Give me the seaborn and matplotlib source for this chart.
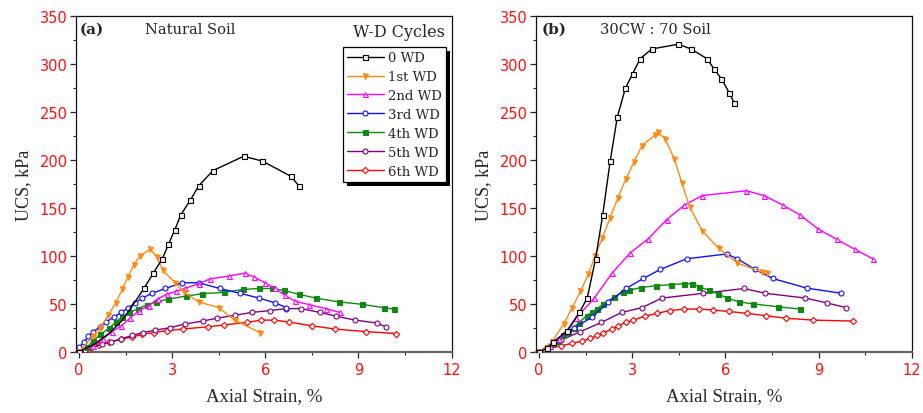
import matplotlib
matplotlib.use("Agg")
import matplotlib.pyplot as plt
from matplotlib.patches import Rectangle
from matplotlib.ticker import MultipleLocator
import seaborn as sns

# ---- (a) Natural soil: axial strain (%) vs UCS (kPa) ----
a_wd0_x = [0, 0.5, 1.0, 1.4, 1.78, 2.09, 2.39, 2.68, 2.88, 3.08, 3.28, 3.58, 3.85, 4.31, 5.30, 5.90, 6.83, 7.08]
a_wd0_y = [0, 8, 20, 33, 51, 66, 82, 97, 112, 127, 143, 158, 173, 189, 204, 199, 183, 173]
a_wd1_x = [0, 0.46, 0.68, 0.94, 1.18, 1.39, 1.57, 1.77, 1.96, 2.29, 2.50, 2.70, 3.09, 3.39, 3.85, 4.50, 5.01, 5.82]
a_wd1_y = [0, 16, 25, 38, 51, 65, 78, 91, 100, 107, 99, 85, 72, 62, 52, 46, 33, 20]
a_wd2_x = [0, 0.45, 0.76, 1.06, 1.36, 1.64, 1.94, 2.24, 2.53, 2.82, 3.12, 3.40, 3.85, 4.21, 4.83, 5.33, 5.64, 5.98, 6.31, 6.63, 6.94, 7.42, 7.95, 8.40]
a_wd2_y = [0, 6, 13, 21, 27, 35, 43, 48, 55, 60, 63, 66, 71, 76, 79, 82, 78, 72, 66, 59, 53, 49, 45, 41]
a_wd3_x = [0, 0.16, 0.30, 0.46, 0.68, 0.87, 1.11, 1.36, 1.59, 1.80, 2.04, 2.35, 2.78, 3.32, 3.85, 4.53, 5.18, 5.80, 6.31, 6.68]
a_wd3_y = [4.5, 10, 16, 21, 26, 31, 36, 41, 46, 51, 56, 61, 66, 72, 72, 66, 61, 56, 51, 46]
a_wd4_x = [0, 0.25, 0.46, 0.68, 0.98, 1.19, 1.37, 1.61, 1.89, 2.18, 2.49, 2.88, 3.44, 3.96, 4.66, 5.28, 5.79, 6.22, 6.60, 7.07, 7.62, 8.37, 9.11, 9.81, 10.15]
a_wd4_y = [0, 4.5, 11.5, 18, 25, 31, 36, 41, 44.5, 49, 52, 55, 58, 60.5, 62, 65, 66, 66, 64, 60, 56, 52, 49.5, 46, 44.5]
a_wd5_x = [0, 0.19, 0.43, 0.74, 1.03, 1.36, 1.71, 2.05, 2.46, 2.92, 3.42, 3.98, 4.44, 5.01, 5.56, 6.15, 6.67, 7.15, 7.76, 8.29, 8.89, 9.59, 9.88]
a_wd5_y = [0, 2, 4.5, 8, 10, 13.5, 17, 20, 22.6, 25, 29, 32, 35, 38, 41, 43, 45, 45, 41, 37, 33, 30, 26]
a_wd6_x = [0, 0.33, 0.63, 0.95, 1.35, 1.72, 2.04, 2.40, 2.83, 3.34, 4.14, 4.68, 5.40, 5.87, 6.29, 6.76, 7.51, 8.24, 9.24, 10.2]
a_wd6_y = [0, 3, 7, 10, 13, 15.6, 18, 20, 22, 23.7, 26, 28, 30.6, 33, 33, 31, 27, 23.7, 21, 19]

# ---- (b) 30CW : 70 Soil ----
b_wd0_x = [0, 0.25, 0.46, 0.9, 1.30, 1.55, 1.82, 2.05, 2.29, 2.52, 2.78, 3.01, 3.26, 3.63, 4.49, 4.89, 5.40, 5.64, 5.87, 6.13, 6.28]
b_wd0_y = [0, 3.5, 10, 22, 41, 56, 97, 143, 199, 245, 275, 290, 306, 316, 321, 316, 306, 295, 285, 270, 260]
b_wd1_x = [0, 0.41, 0.79, 1.07, 1.33, 1.59, 1.80, 2.04, 2.29, 2.53, 2.79, 3.06, 3.31, 3.73, 3.84, 4.06, 4.36, 4.60, 4.85, 5.26, 5.78, 6.39, 7.19, 7.33]
b_wd1_y = [0, 10, 29, 46, 63, 81, 100, 119, 140, 160, 180, 198, 215, 226, 229, 222, 201, 176, 151, 126, 108, 92.5, 83, 82]
b_wd2_x = [0, 0.35, 0.65, 0.92, 1.19, 1.78, 2.35, 2.93, 3.52, 4.11, 4.68, 5.25, 6.68, 7.25, 7.85, 8.40, 8.99, 9.58, 10.16, 10.75]
b_wd2_y = [0, 6, 13, 22, 35, 56, 82, 103, 118, 138, 153, 163, 168, 163, 153, 143, 128, 117.5, 107, 97]
b_wd3_x = [0, 0.5, 1.14, 1.70, 2.23, 2.80, 3.36, 3.91, 4.75, 6.04, 6.39, 6.95, 7.52, 8.62, 9.74]
b_wd3_y = [0, 10, 25, 36, 51.5, 66, 76.5, 86, 97, 102, 97, 86, 76.5, 66.4, 61]
b_wd4_x = [0, 0.25, 0.43, 0.60, 0.78, 0.94, 1.11, 1.27, 1.53, 1.70, 1.88, 2.07, 2.41, 2.70, 2.88, 3.28, 3.78, 4.25, 4.68, 4.92, 5.16, 5.48, 5.76, 6.05, 6.44, 6.88, 7.68, 8.40]
b_wd4_y = [0, 4.5, 8, 11.5, 17, 21, 25, 30, 37.6, 41, 45, 50, 57, 62, 64, 67, 69, 70, 71, 71, 68, 64, 60.5, 56, 52, 50, 47, 44.5]
b_wd5_x = [0, 0.25, 0.7, 1.33, 2.01, 2.66, 3.31, 3.96, 5.29, 6.61, 7.28, 8.58, 9.26, 9.90]
b_wd5_y = [0, 3.5, 12, 21, 30.6, 41, 46, 56, 61, 66, 61, 56, 51, 46]
b_wd6_x = [0, 0.25, 0.69, 1.05, 1.37, 1.65, 1.88, 2.07, 2.34, 2.55, 2.80, 3.04, 3.40, 3.79, 4.21, 4.68, 5.16, 5.61, 6.11, 6.71, 7.31, 7.94, 8.83, 10.11]
b_wd6_y = [0, 3.5, 6, 8.7, 11, 14, 17, 19.5, 23.7, 27, 30.6, 33, 37, 40, 43, 44.5, 44.5, 43.5, 42, 40, 37.6, 35, 33, 32]

cycle_labels = ["0 WD", "1st WD", "2nd WD", "3rd WD", "4th WD", "5th WD", "6th WD"]
x_ticks = [0, 3, 6, 9, 12]
y_ticks = [0, 50, 100, 150, 200, 250, 300, 350]

# line colour, marker, marker face (None = filled)
styles = [
    ("#000000", "s", "#f0f0f0"),
    ("#FF8A14", "v", None),
    ("#FF00FF", "^", "white"),
    ("#1010FF", "o", "white"),
    ("#118811", "s", None),
    ("#800080", "o", "white"),
    ("#FF0000", "D", "white"),
]

sns.set_style("ticks")
plt.rcParams["font.family"] = ["DejaVu Sans"]
SERIF = ["DejaVu Serif"]
LABEL_FONT = ["Liberation Serif", "DejaVu Serif"]

fig = plt.figure(figsize=(9.23, 4.14), dpi=100)
ax_a = fig.add_axes([0.0823, 0.148, 0.407, 0.810])
ax_b = fig.add_axes([0.5807, 0.148, 0.407, 0.810])

panels = [
    (ax_a, [(a_wd0_x, a_wd0_y), (a_wd1_x, a_wd1_y), (a_wd2_x, a_wd2_y), (a_wd3_x, a_wd3_y),
            (a_wd4_x, a_wd4_y), (a_wd5_x, a_wd5_y), (a_wd6_x, a_wd6_y)]),
    (ax_b, [(b_wd0_x, b_wd0_y), (b_wd1_x, b_wd1_y), (b_wd2_x, b_wd2_y), (b_wd3_x, b_wd3_y),
            (b_wd4_x, b_wd4_y), (b_wd5_x, b_wd5_y), (b_wd6_x, b_wd6_y)]),
]

for ax, series in panels:
    # draw later cycles first so the 0 WD curve sits on top
    for i in reversed(range(len(series))):
        xs, ys = series[i]
        color, marker, face = styles[i]
        every = None
        if ax is ax_a and i == 0:
            # the early part of the unweathered curve carries no symbols
            every = [0] + list(range(5, len(xs)))
        sns.lineplot(
            x=xs, y=ys, ax=ax, sort=False, estimator=None,
            color=color, linewidth=1.0, marker=marker,
            markersize=3.6 if marker != "D" else 3.2,
            markerfacecolor=face if face else color,
            markeredgecolor=color, markeredgewidth=0.8, markevery=every,
            label=cycle_labels[i], legend=False, zorder=3 + (7 - i) * 0.1,
        )
    ax.set_xlim(-0.1, 12)
    ax.set_ylim(0, 350)
    ax.set_xticks(x_ticks)
    ax.set_yticks(y_ticks)
    ax.xaxis.set_minor_locator(MultipleLocator(1.5))
    ax.yaxis.set_minor_locator(MultipleLocator(25))
    ax.tick_params(which="major", direction="out", length=4.5, width=0.9,
                   labelcolor="#FF1010", labelsize=10.5, top=False, right=False)
    ax.tick_params(which="minor", direction="out", length=2.3, width=0.8,
                   top=False, right=False)
    ax.tick_params(axis="y", pad=1.5)
    ax.tick_params(axis="x", pad=3)
    for side in ["left", "top", "right"]:
        ax.spines[side].set_color("#111111")
        ax.spines[side].set_linewidth(0.9)
        ax.spines[side].set_visible(True)
    ax.spines["bottom"].set_color("#666666")
    ax.spines["bottom"].set_linewidth(1.6)
    ax.set_xlabel("Axial Strain, %", family=LABEL_FONT, fontsize=13.5, labelpad=7)
    ax.set_ylabel("UCS, kPa", family=LABEL_FONT, fontsize=13, labelpad=5)
    ax.set_facecolor("white")

# panel captions
ax_a.text(0.011, 0.962, "(a)", transform=ax_a.transAxes, family=SERIF,
          fontweight="bold", fontsize=11, ha="left", va="center")
ax_a.text(0.184, 0.962, "Natural Soil", transform=ax_a.transAxes, family=SERIF,
          fontsize=10.5, ha="left", va="center")
ax_b.text(0.016, 0.962, "(b)", transform=ax_b.transAxes, family=SERIF,
          fontweight="bold", fontsize=11, ha="left", va="center")
ax_b.text(0.17, 0.962, "30CW : 70 Soil", transform=ax_b.transAxes, family=SERIF,
          fontsize=10.5, ha="left", va="center")

# legend in panel (a) with heading above the box and a drop shadow
handles, labels = ax_a.get_legend_handles_labels()
order = [labels.index(l) for l in cycle_labels]
handles = [handles[k] for k in order]
labels = [labels[k] for k in order]
leg = ax_a.legend(handles, labels, loc="upper right", bbox_to_anchor=(0.985, 0.908),
                  borderaxespad=0, frameon=True, fancybox=False, edgecolor="black",
                  framealpha=1, prop={"family": SERIF, "size": 9.5},
                  handlelength=2.8, handletextpad=0.35, labelspacing=0.45,
                  borderpad=0.3, numpoints=1)
leg.get_frame().set_linewidth(0.9)
leg.set_zorder(6)
for h in leg.legend_handles:
    # one symbol in the middle of each legend line
    h.set_markevery([1])
if ax_b.get_legend() is not None:
    ax_b.get_legend().remove()

ax_a.text(0.982, 0.955, "W-D Cycles", transform=ax_a.transAxes, family=SERIF,
          fontsize=11.5, ha="right", va="center")

fig.canvas.draw()
bb = leg.get_window_extent()
inv = ax_a.transAxes.inverted()
off = 4
(x0, y0) = inv.transform((bb.x0 + off, bb.y0 - off))
(x1, y1) = inv.transform((bb.x1 + off, bb.y1 - off))
ax_a.add_patch(Rectangle((x0, y0), x1 - x0, y1 - y0, transform=ax_a.transAxes,
                         facecolor="black", edgecolor="none", clip_on=False, zorder=5.5))

fig.savefig("out.png", dpi=100, facecolor="white")
